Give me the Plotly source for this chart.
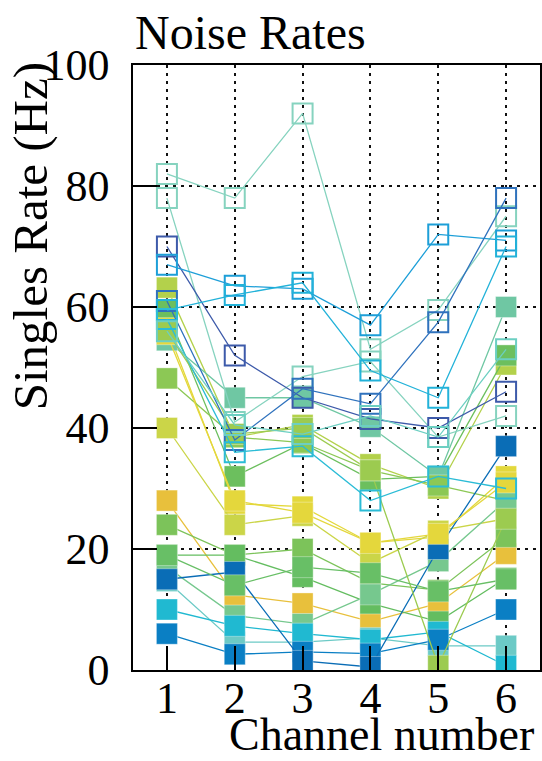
import plotly.graph_objects as go

channels = [1, 2, 3, 4, 5, 6]
tick_values = [0, 20, 40, 60, 80, 100]

# Hollow-marker series (rates in Hz per channel)
open_a = [82, 78, 92, 53, 59.5, 75]
open_b = [78, 41, 48.5, 51, 38.5, 42]
open_c = [70, 52, 45, 41.5, 40, 46]
open_d = [67, 63.5, 63, 57, 72, 71]
open_e = [61, 38, 46.5, 44, 57.5, 78]
open_f = [59.5, 62, 64, 49.5, 45, 70]
open_g = [58, 36, 37, 28, 32, 30]
open_h = [56, 40.5, 39, 42, 38.5, 53]

# Filled-marker series
fill_a = [63.2, 38.5, 40.5, 34, 30, 50.5]
fill_b = [59.4, 32, 37.5, 31.5, 32, 52]
fill_c = [56.5, 27.5, 27, 21, 22, 32]
fill_d = [54.5, 45, 45, 40.2, 32, 60]
fill_e = [48.2, 38.5, 37.6, 33, 30.5, 28]
fill_f = [40, 24, 25.5, 17.7, 23, 25]
fill_g = [28, 12.4, 11, 8, 11, 19.2]
fill_h = [24, 19, 20, 14.4, 13.2, 22]
fill_i = [19, 19, 15.4, 11, 8, 15.2]
fill_j = [17, 9, 7.6, 12.5, 18, 28]
fill_k = [14.7, 4.6, 4.6, 5.3, 4, 4]
fill_l = [10, 7.3, 6, 5, 6.3, 0.7]
fill_m = [6, 2.6, 3, 2.7, 5, 10]
fill_n = [15, 16.2, 1.5, 0.5, 20, 37]
fill_o = [55.5, 28, 26, 21, 22.5, 31]
fill_p = [56, 39, 40, 33, 0.7, 25]
fill_q = [19, 14, 17, 16, 13, 15]

open_series = [open_a, open_b, open_c, open_d, open_e, open_f, open_g, open_h]
open_colors = ["#86d3bf", "#86d3bf", "#3d5aaa", "#1d9fd8", "#2f72bd", "#22b2d9", "#2bbcd6", "#6ccfc2"]

fill_series = [fill_a, fill_b, fill_c, fill_d, fill_e, fill_f, fill_g, fill_h, fill_i,
               fill_j, fill_k, fill_l, fill_m, fill_n, fill_o, fill_p, fill_q]
fill_colors = ["#b3d14b", "#6cbf5e", "#e3d83b", "#6fc7a3", "#8cc855", "#cbd548", "#e8c03c",
               "#7cc35a", "#64bd60", "#76c88e", "#6ccac6", "#20b9d1", "#0a7fc4", "#0a6db6",
               "#e4d73c", "#9ccb50", "#68bf66"]

fig = go.Figure()

for vals, col in zip(fill_series, fill_colors):
    fig.add_trace(go.Scatter(
        x=channels, y=vals, mode="lines+markers",
        line=dict(color=col, width=1.3),
        marker=dict(symbol="square", size=21, color=col,
                    line=dict(color="rgba(255,255,255,0.35)", width=1)),
        showlegend=False, cliponaxis=True))

for vals, col in zip(open_series, open_colors):
    fig.add_trace(go.Scatter(
        x=channels, y=vals, mode="lines+markers",
        line=dict(color=col, width=1.3),
        marker=dict(symbol="square-open", size=20, color=col,
                    line=dict(color=col, width=2)),
        showlegend=False, cliponaxis=True))

serif = "Liberation Serif"
axis_common = dict(
    showline=True, linecolor="black", linewidth=1.5, mirror=True,
    ticks="inside", ticklen=24, tickwidth=1.5, tickcolor="black",
    showgrid=True, gridcolor="#111", gridwidth=1.5, griddash="3px,5px",
    zeroline=False,
    tickfont=dict(family=serif, size=44, color="black"),
)

fig.update_xaxes(range=[0.5, 6.5], tickvals=channels, ticktext=[str(c) for c in channels],
                 ticklabelstandoff=-12, **axis_common)
fig.update_yaxes(range=[0, 100], tickvals=tick_values, ticktext=[str(t) for t in tick_values],
                 ticklabelstandoff=13, **axis_common)

fig.update_layout(
    width=542, height=761,
    margin=dict(l=133, r=1.5, t=65, b=90.5),
    paper_bgcolor="white", plot_bgcolor="white",
    font=dict(family=serif, color="black"),
    annotations=[
        dict(text="Noise Rates", xref="paper", yref="paper", x=0.0, y=1.0537,
             xanchor="left", yanchor="middle", showarrow=False,
             font=dict(family=serif, size=48, color="black")),
        dict(text="Singles Rate (Hz)", xref="paper", yref="paper", x=-0.252, y=0.7176,
             xanchor="center", yanchor="middle", textangle=-90, showarrow=False,
             font=dict(family=serif, size=49, color="black")),
        dict(text="Channel number", xref="paper", yref="paper", x=0.99, y=-0.106,
             xanchor="right", yanchor="middle", showarrow=False,
             font=dict(family=serif, size=46, color="black")),
    ],
)

fig.write_html("out.html", config={"displayModeBar": False},
               post_script="document.body.style.margin='0px';document.body.style.overflow='hidden';")
